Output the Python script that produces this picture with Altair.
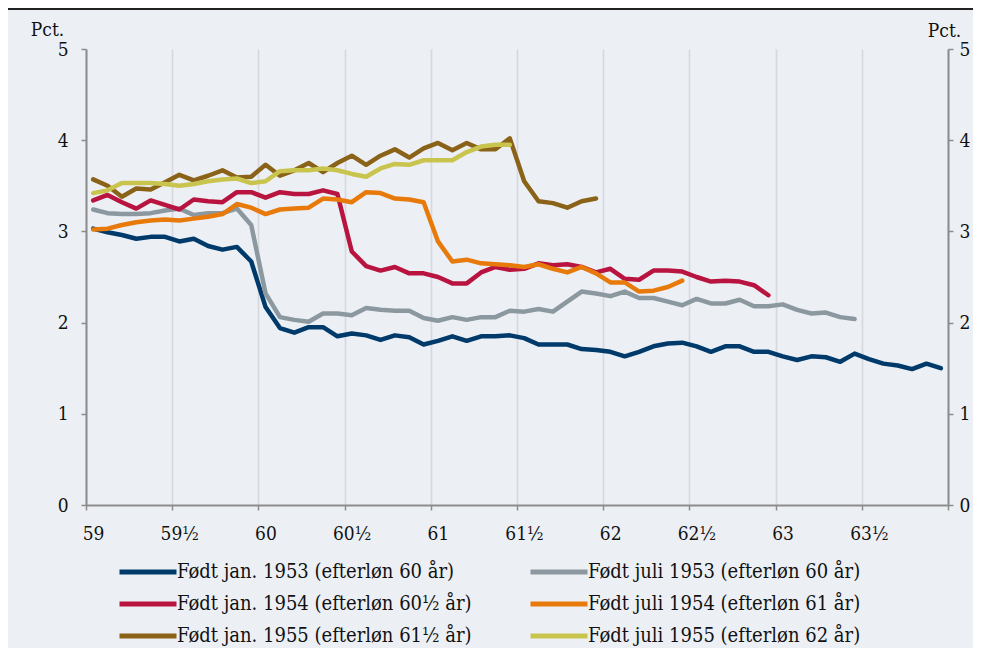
import altair as alt
import pandas as pd

# ---------------- data ----------------
series_names = [
    "Født jan. 1953 (efterløn 60 år)",
    "Født juli 1953 (efterløn 60 år)",
    "Født jan. 1954 (efterløn 60½ år)",
    "Født juli 1954 (efterløn 61 år)",
    "Født jan. 1955 (efterløn 61½ år)",
    "Født juli 1955 (efterløn 62 år)",
]
series_colors = ["#003a6b", "#8c989f", "#b8143f", "#e87a0c", "#8a6318", "#c9c44e"]

jan1953 = [3.03, 2.99, 2.96, 2.92, 2.94, 2.94, 2.89, 2.92, 2.84, 2.80, 2.83, 2.67,
           2.17, 1.94, 1.89, 1.95, 1.95, 1.85, 1.88, 1.86, 1.81, 1.86, 1.84, 1.76,
           1.80, 1.85, 1.80, 1.85, 1.85, 1.86, 1.83, 1.76, 1.76, 1.76, 1.71, 1.70,
           1.68, 1.63, 1.68, 1.74, 1.77, 1.78, 1.74, 1.68, 1.74, 1.74, 1.68, 1.68,
           1.63, 1.59, 1.63, 1.62, 1.57, 1.66, 1.60, 1.55, 1.53, 1.49, 1.55, 1.50]
jul1953 = [3.24, 3.20, 3.19, 3.19, 3.20, 3.23, 3.25, 3.18, 3.20, 3.20, 3.25, 3.07,
           2.32, 2.06, 2.03, 2.01, 2.10, 2.10, 2.08, 2.16, 2.14, 2.13, 2.13, 2.05,
           2.02, 2.06, 2.03, 2.06, 2.06, 2.13, 2.12, 2.15, 2.12, 2.23, 2.34, 2.32,
           2.29, 2.34, 2.27, 2.27, 2.23, 2.19, 2.26, 2.21, 2.21, 2.25, 2.18, 2.18,
           2.20, 2.14, 2.10, 2.11, 2.06, 2.04]
jan1954 = [3.34, 3.40, 3.32, 3.25, 3.34, 3.29, 3.24, 3.35, 3.33, 3.32, 3.43, 3.43,
           3.37, 3.43, 3.41, 3.41, 3.45, 3.41, 2.78, 2.62, 2.57, 2.61, 2.54, 2.54,
           2.50, 2.43, 2.43, 2.55, 2.61, 2.58, 2.59, 2.65, 2.63, 2.64, 2.61, 2.55,
           2.59, 2.48, 2.47, 2.57, 2.57, 2.56, 2.50, 2.45, 2.46, 2.45, 2.41, 2.30]
jul1954 = [3.02, 3.03, 3.07, 3.10, 3.12, 3.13, 3.12, 3.14, 3.16, 3.19, 3.30, 3.26,
           3.19, 3.24, 3.25, 3.26, 3.36, 3.35, 3.32, 3.43, 3.42, 3.36, 3.35, 3.32,
           2.89, 2.67, 2.69, 2.65, 2.64, 2.63, 2.61, 2.64, 2.59, 2.55, 2.61, 2.54,
           2.44, 2.44, 2.34, 2.35, 2.39, 2.46]
jan1955 = [3.57, 3.50, 3.38, 3.47, 3.46, 3.54, 3.62, 3.56, 3.61, 3.67, 3.59, 3.60,
           3.73, 3.61, 3.67, 3.75, 3.65, 3.75, 3.83, 3.73, 3.83, 3.90, 3.81, 3.91,
           3.97, 3.89, 3.97, 3.90, 3.90, 4.02, 3.55, 3.33, 3.31, 3.26, 3.33, 3.36]
jul1955 = [3.42, 3.45, 3.53, 3.53, 3.53, 3.52, 3.50, 3.52, 3.55, 3.57, 3.58, 3.53,
           3.55, 3.66, 3.67, 3.67, 3.69, 3.67, 3.63, 3.60, 3.69, 3.74, 3.73, 3.78,
           3.78, 3.78, 3.87, 3.93, 3.95, 3.95]

x_tick_values = [59, 59.5, 60, 60.5, 61, 61.5, 62, 62.5, 63, 63.5, 64]
y_tick_values = [0, 1, 2, 3, 4, 5]

all_series = [jan1953, jul1953, jan1954, jul1954, jan1955, jul1955]

rows = []
for name, vals in zip(series_names, all_series):
    for month, v in enumerate(vals):
        rows.append({"serie": name, "month": month, "value": v})
df = pd.DataFrame(rows)

FONT = "DejaVu Serif Condensed, DejaVu Serif, serif"
AX = "#8c8c8c"

x_enc = alt.X(
    "age:Q",
    scale=alt.Scale(domain=[59, 64], nice=False, zero=False),
    axis=alt.Axis(
        values=x_tick_values,
        labelExpr="datum.value >= 64 ? '' : (floor(datum.value) + (datum.value % 1 > 0 ? '½' : ''))",
        title=None,
        grid=True,
        gridColor="#d5d8dc",
        gridWidth=1.6,
        domainColor=AX,
        domainWidth=2,
        tickColor=AX,
        tickWidth=1.5,
        tickSize=5,
        labelOffset=7,
        labelFlush=False,
        labelPadding=14,
        labelFont=FONT,
        labelFontSize=19,
        labelColor="#111111",
    ),
)

y_scale = alt.Scale(domain=[0, 5], nice=False)

color_scale = alt.Scale(domain=series_names, range=series_colors)

layers = []
for name in series_names:
    layer = (
        alt.Chart(df)
        .transform_filter(alt.datum.serie == name)
        .transform_calculate(age="59 + (datum.month + 0.5) / 12")
        .mark_line(strokeWidth=4.5, strokeCap="round", strokeJoin="round")
        .encode(
            x=x_enc,
            y=alt.Y(
                "value:Q",
                scale=y_scale,
                axis=alt.Axis(
                    values=y_tick_values,
                    title="Pct.",
                    titleAngle=0,
                    titleAlign="center",
                    titleBaseline="alphabetic",
                    titleX=-39,
                    titleY=-14,
                    titleFont=FONT,
                    titleFontSize=19,
                    titleFontWeight="normal",
                    titleColor="#111111",
                    grid=False,
                    domainColor=AX,
                    domainWidth=2,
                    tickColor=AX,
                    tickWidth=1.5,
                    tickSize=5,
                    labelPadding=13,
                    labelFont=FONT,
                    labelFontSize=19,
                    labelColor="#111111",
                ),
            ),
            color=alt.Color(
                "serie:N",
                scale=color_scale,
                sort=series_names,
                legend=alt.Legend(
                    title=None,
                    orient="none",
                    direction="horizontal",
                    legendX=31,
                    legendY=511,
                    columns=2,
                    columnPadding=48,
                    rowPadding=10,
                    symbolType="M-1,0H5",
                    symbolSize=361,
                    symbolStrokeWidth=5,
                    labelOffset=36,
                    labelFont=FONT,
                    labelFontSize=20,
                    labelColor="#111111",
                    labelLimit=400,
                ),
            ),
        )
    )
    layers.append(layer)

lines = alt.layer(*layers)

right_axis = (
    alt.Chart(df)
    .mark_point(opacity=0)
    .encode(
        y=alt.Y(
            "value:Q",
            scale=y_scale,
            axis=alt.Axis(
                orient="right",
                values=y_tick_values,
                title="Pct.",
                titleAngle=0,
                titleAlign="center",
                titleBaseline="alphabetic",
                titleX=-4,
                titleY=-13,
                titleFont=FONT,
                titleFontSize=19,
                titleFontWeight="normal",
                titleColor="#111111",
                grid=False,
                domainColor=AX,
                domainWidth=2,
                tickColor=AX,
                tickWidth=1.5,
                tickSize=5,
                labelPadding=6,
                labelFont=FONT,
                labelFontSize=19,
                labelColor="#111111",
            ),
        )
    )
)

top_rule = (
    alt.Chart(df.head(1))
    .mark_rule(color="#222222", strokeWidth=2)
    .encode(x=alt.value(-78), x2=alt.value(887), y=alt.value(-40))
)

chart = (
    alt.layer(lines, right_axis, top_rule)
    .resolve_scale(y="independent")
    .properties(
        width=862,
        height=456,
        autosize=alt.AutoSizeParams(type="none"),
        padding={"left": 78, "top": 41, "right": 25, "bottom": 143},
        background="#ecf0f5",
    )
    .configure_view(stroke=None)
)

chart.save("out.html", embed_options={"renderer": "svg", "actions": False})
